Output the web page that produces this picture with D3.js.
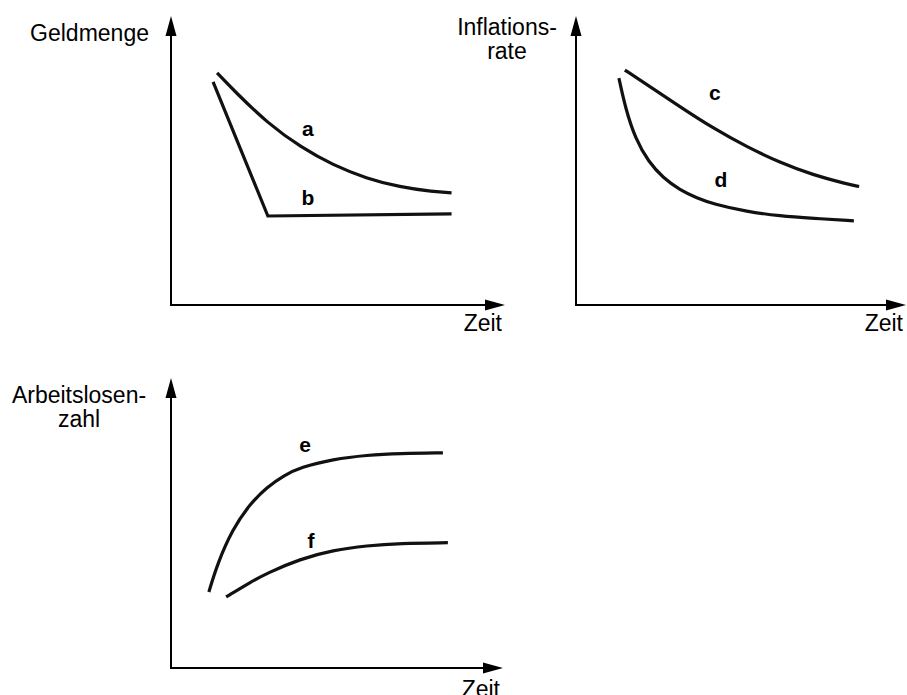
<html>
    <head>
        <title>Geldmenge, Inflationsrate, Arbeitslosenzahl</title>
        <style>
            body { margin: 0; background: #fff; }
            svg text {
                font-family: "Liberation Sans", Arial, sans-serif;
                fill: #000;
            }
            .axis-title { font-size: 23px; }
            .curve-label { font-size: 21px; font-weight: bold; text-anchor: middle; }
            .axis line { stroke: #000; stroke-width: 2; }
            .axis path { fill: #000; stroke: none; }
            .curve { fill: none; stroke: #111; stroke-width: 3.2; stroke-linejoin: miter; }
        </style>
    </head>
    <body>
        <svg class="chart" width="907" height="695"></svg>
        <script src="https://d3js.org/d3.v7.min.js"></script>
        <script>

            // curve points, [zeit, wert] on a 0..10 scale for each little diagram
            var curveA = [[1.38,8.03],[1.9,7.4],[2.9,6.28],[3.9,5.45],[4.85,4.84],[5.85,4.38],[6.85,4.08],[7.85,3.92],[8.4,3.88]];
            var curveB = [[1.26,7.72],[2.9,3.08],[8.4,3.15]];
            var curveC = [[1.48,8.13],[2.15,7.63],[3.15,6.86],[4.15,6.12],[5.18,5.47],[6.18,4.93],[7.18,4.5],[8.2,4.19],[8.58,4.1]];
            var curveD = [[1.3,7.85],[1.5,6.8],[1.8,5.75],[2.2,4.95],[2.64,4.4],[3.15,3.98],[3.67,3.7],[4.15,3.5],[5.18,3.23],[6.18,3.08],[7.18,3.0],[8.42,2.91]];
            var curveE = [[1.14,2.62],[1.4,3.6],[1.85,4.78],[2.38,5.66],[2.89,6.24],[3.4,6.64],[3.9,6.92],[4.88,7.2],[5.9,7.34],[6.9,7.4],[8.19,7.42]];
            var curveF = [[1.66,2.45],[2.38,2.95],[2.89,3.27],[3.89,3.76],[4.88,4.06],[5.9,4.22],[6.9,4.3],[8.34,4.32]];

            // curve names and where their letters sit
            var curveNames = ["a", "b", "c", "d", "e", "f"];
            var labelPos = [[4.1,5.85],[4.1,3.46],[4.21,7.09],[4.39,4.08],[4.04,7.45],[4.22,4.14]];

            var yTitles = [["Geldmenge"], ["Inflations-", "rate"], ["Arbeitslosen-", "zahl"]];
            var xTitle = "Zeit";

            var chart = d3.select('.chart');

            // layout of the three diagrams
            var panels = [
                {ox:171, oy:305, w:334, h:289, curves:[curveA, curveB], names:[0,1], straight:[false,true],
                 titleX:149, titleY:41, anchor:'end', zeitY:331},
                {ox:576, oy:305, w:330, h:289, curves:[curveC, curveD], names:[2,3], straight:[false,false],
                 titleX:507, titleY:35, anchor:'middle', zeitY:331},
                {ox:171, oy:668, w:332, h:290, curves:[curveE, curveF], names:[4,5], straight:[false,false],
                 titleX:79, titleY:403, anchor:'middle', zeitY:697}
            ];

            var headLen = 20, headW = 5.5;

            panels.forEach(function(p, i) {
                var x = d3.scaleLinear().domain([0,10]).range([p.ox, p.ox + p.w]);
                var y = d3.scaleLinear().domain([0,10]).range([p.oy, p.oy - p.h]);

                var g = chart.append('g').attr('class', 'panel');
                var axis = g.append('g').attr('class', 'axis');

                // y axis with arrow
                axis.append('line')
                    .attr('x1', x(0)).attr('y1', y(0))
                    .attr('x2', x(0)).attr('y2', y(10) + headLen - 2);
                axis.append('path')
                    .attr('d', 'M' + x(0) + ',' + y(10) + 'L' + (x(0) - headW) + ',' + (y(10) + headLen) +
                               'L' + (x(0) + headW) + ',' + (y(10) + headLen) + 'Z');

                // x axis with arrow
                axis.append('line')
                    .attr('x1', x(0) - 1).attr('y1', y(0))
                    .attr('x2', x(10) - headLen + 2).attr('y2', y(0));
                axis.append('path')
                    .attr('d', 'M' + x(10) + ',' + y(0) + 'L' + (x(10) - headLen) + ',' + (y(0) - headW) +
                               'L' + (x(10) - headLen) + ',' + (y(0) + headW) + 'Z');

                // titles, one text per line
                yTitles[i].forEach(function(t, k) {
                    g.append('text')
                        .attr('class', 'axis-title')
                        .attr('x', p.titleX)
                        .attr('y', p.titleY + k * 24)
                        .style('text-anchor', p.anchor)
                        .text(t);
                });

                g.append('text')
                    .attr('class', 'axis-title')
                    .attr('x', x(10) - 3)
                    .attr('y', p.zeitY)
                    .style('text-anchor', 'end')
                    .text(xTitle);

                // curves
                p.curves.forEach(function(c, k) {
                    var line = d3.line()
                        .x(function(d) { return x(d[0]); })
                        .y(function(d) { return y(d[1]); })
                        .curve(p.straight[k] ? d3.curveLinear : d3.curveBasis);
                    g.append('path')
                        .attr('class', 'curve')
                        .attr('d', line(c));

                    var n = p.names[k];
                    g.append('text')
                        .attr('class', 'curve-label')
                        .attr('x', x(labelPos[n][0]))
                        .attr('y', y(labelPos[n][1]))
                        .text(curveNames[n]);
                });
            });

        </script>
    </body>
</html>
